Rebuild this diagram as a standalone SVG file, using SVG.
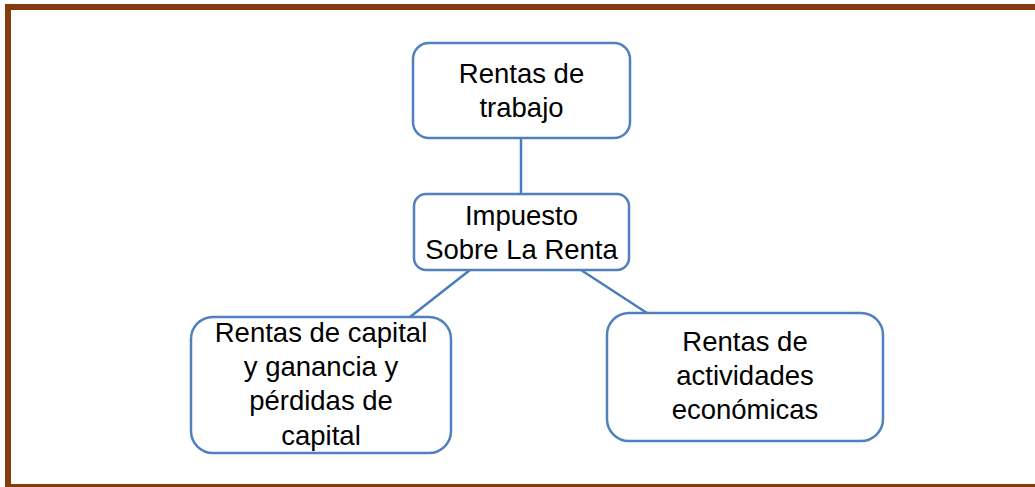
<svg xmlns="http://www.w3.org/2000/svg" width="1035" height="487" viewBox="0 0 1035 487">
<style>
.box{fill:#fff;stroke:#4F81BD;stroke-width:2.5}
.lbl{font-family:"Liberation Sans",Arial,sans-serif;font-size:27.5px;fill:#000;text-anchor:middle}
.conn{stroke:#4A7EBB;stroke-width:2.5;fill:none}
</style>
<rect width="1035" height="487" fill="#fff"/>
<rect x="8" y="7" width="1100" height="480" fill="none" stroke="#843C0C" stroke-width="6"/>
<g id="connectors">
<line class="conn" x1="521" y1="138" x2="521" y2="194"/>
<line class="conn" x1="470" y1="270" x2="410" y2="317"/>
<line class="conn" x1="581" y1="270" x2="647" y2="313"/>
</g>
<g id="n-trabajo">
<rect class="box" x="413" y="43" width="217" height="95" rx="16"/>
<text class="lbl" x="521.5" y="83">Rentas de</text>
<text class="lbl" x="521.5" y="117">trabajo</text>
</g>
<g id="n-impuesto">
<rect class="box" x="414" y="194" width="215" height="76" rx="12"/>
<text class="lbl" x="521.5" y="225">Impuesto</text>
<text class="lbl" x="521.5" y="259">Sobre La Renta</text>
</g>
<g id="n-capital">
<rect class="box" x="191" y="317" width="260" height="136" rx="22"/>
<text class="lbl" x="321" y="342">Rentas de capital</text>
<text class="lbl" x="321" y="376">y ganancia y</text>
<text class="lbl" x="321" y="410">pérdidas de</text>
<text class="lbl" x="321" y="445">capital</text>
</g>
<g id="n-actividades">
<rect class="box" x="607" y="313" width="276" height="128" rx="22"/>
<text class="lbl" x="745" y="351">Rentas de</text>
<text class="lbl" x="745" y="385">actividades</text>
<text class="lbl" x="745" y="419">económicas</text>
</g>
</svg>
